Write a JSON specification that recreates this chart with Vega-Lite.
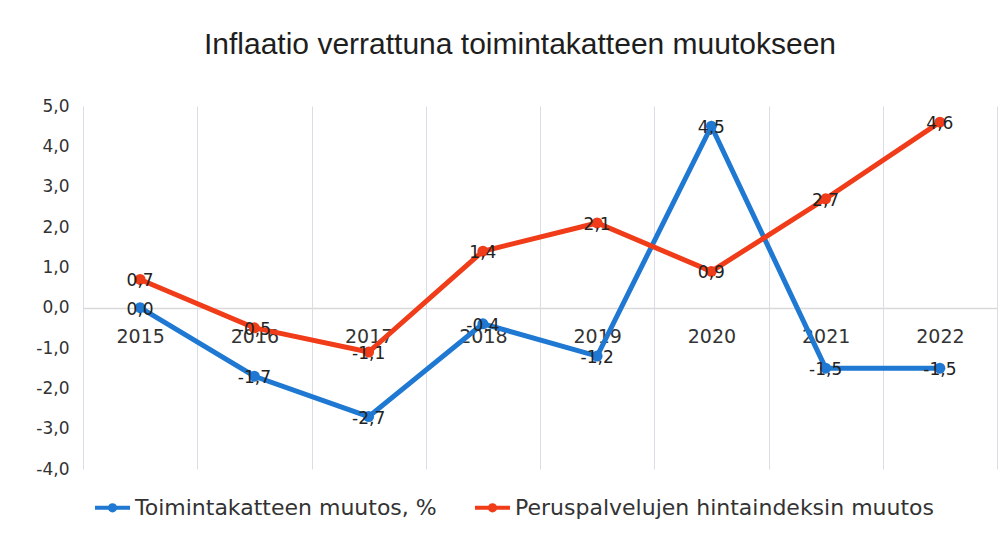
{
  "$schema": "https://vega.github.io/schema/vega-lite/v6.json",
  "width": 914,
  "height": 363,
  "autosize": "none",
  "padding": {"left": 83, "top": 106, "right": 10, "bottom": 65},
  "background": "white",
  "config": {
    "locale": {"number": {"decimal": ",", "thousands": " ", "grouping": [3], "currency": ["", " €"], "minus": "-"}},
    "view": {"stroke": null}
  },
  "title": {
    "text": "Inflaatio verrattuna toimintakatteen muutokseen",
    "font": "Liberation Sans",
    "fontSize": 30,
    "fontWeight": "normal",
    "color": "#1e1e1e",
    "offset": 37,
    "dx": -20
  },
  "data": {
    "values": [
      {"year": "2015", "series": "Toimintakatteen muutos, %", "value": 0.0},
      {"year": "2016", "series": "Toimintakatteen muutos, %", "value": -1.7},
      {"year": "2017", "series": "Toimintakatteen muutos, %", "value": -2.7},
      {"year": "2018", "series": "Toimintakatteen muutos, %", "value": -0.4},
      {"year": "2019", "series": "Toimintakatteen muutos, %", "value": -1.2},
      {"year": "2020", "series": "Toimintakatteen muutos, %", "value": 4.5},
      {"year": "2021", "series": "Toimintakatteen muutos, %", "value": -1.5},
      {"year": "2022", "series": "Toimintakatteen muutos, %", "value": -1.5},
      {"year": "2015", "series": "Peruspalvelujen hintaindeksin muutos", "value": 0.7},
      {"year": "2016", "series": "Peruspalvelujen hintaindeksin muutos", "value": -0.5},
      {"year": "2017", "series": "Peruspalvelujen hintaindeksin muutos", "value": -1.1},
      {"year": "2018", "series": "Peruspalvelujen hintaindeksin muutos", "value": 1.4},
      {"year": "2019", "series": "Peruspalvelujen hintaindeksin muutos", "value": 2.1},
      {"year": "2020", "series": "Peruspalvelujen hintaindeksin muutos", "value": 0.9},
      {"year": "2021", "series": "Peruspalvelujen hintaindeksin muutos", "value": 2.7},
      {"year": "2022", "series": "Peruspalvelujen hintaindeksin muutos", "value": 4.6}
    ]
  },
  "encoding": {
    "x": {
      "field": "year",
      "type": "ordinal",
      "scale": {"type": "band", "paddingInner": 0, "paddingOuter": 0},
      "axis": {
        "title": null,
        "orient": "bottom",
        "offset": -161,
        "domainColor": "#d9d9d9",
        "domainWidth": 1.5,
        "ticks": false,
        "tickBand": "extent",
        "grid": true,
        "gridColor": "#dcdce6",
        "gridWidth": 1,
        "labelAngle": 0,
        "labelFont": "DejaVu Sans",
        "labelFontSize": 19,
        "labelColor": "#333333",
        "labelPadding": 19
      }
    },
    "y": {
      "field": "value",
      "type": "quantitative",
      "scale": {"domain": [-4, 5], "nice": false},
      "axis": {
        "title": null,
        "values": [-4, -3, -2, -1, 0, 1, 2, 3, 4, 5],
        "format": ".1f",
        "domain": false,
        "ticks": false,
        "grid": false,
        "labelPadding": 14,
        "labelFont": "DejaVu Sans",
        "labelFontSize": 17,
        "labelColor": "#333333"
      }
    },
    "color": {
      "field": "series",
      "type": "nominal",
      "scale": {
        "domain": ["Toimintakatteen muutos, %", "Peruspalvelujen hintaindeksin muutos"],
        "range": ["#1f78d1", "#f03c18"]
      },
      "legend": {
        "title": null,
        "orient": "bottom",
        "direction": "horizontal",
        "symbolType": "M-1,0 L1,0 M-0.15,0 A0.15,0.15 0 1,0 0.15,0 A0.15,0.15 0 1,0 -0.15,0",
        "symbolSize": 1225,
        "symbolStrokeWidth": 4,
        "labelFont": "DejaVu Sans",
        "labelFontSize": 22,
        "labelColor": "#333333",
        "labelLimit": 500,
        "labelOffset": 3,
        "columnPadding": 30,
        "padding": 10,
        "offset": 9
      }
    }
  },
  "layer": [
    {"mark": {"type": "line", "strokeWidth": 5, "point": {"filled": true, "size": 120}}},
    {
      "mark": {"type": "text", "fontSize": 17, "dy": 2, "font": "DejaVu Sans"},
      "encoding": {
        "text": {"field": "value", "type": "quantitative", "format": ".1f"},
        "color": {"value": "#222222"}
      }
    }
  ]
}
